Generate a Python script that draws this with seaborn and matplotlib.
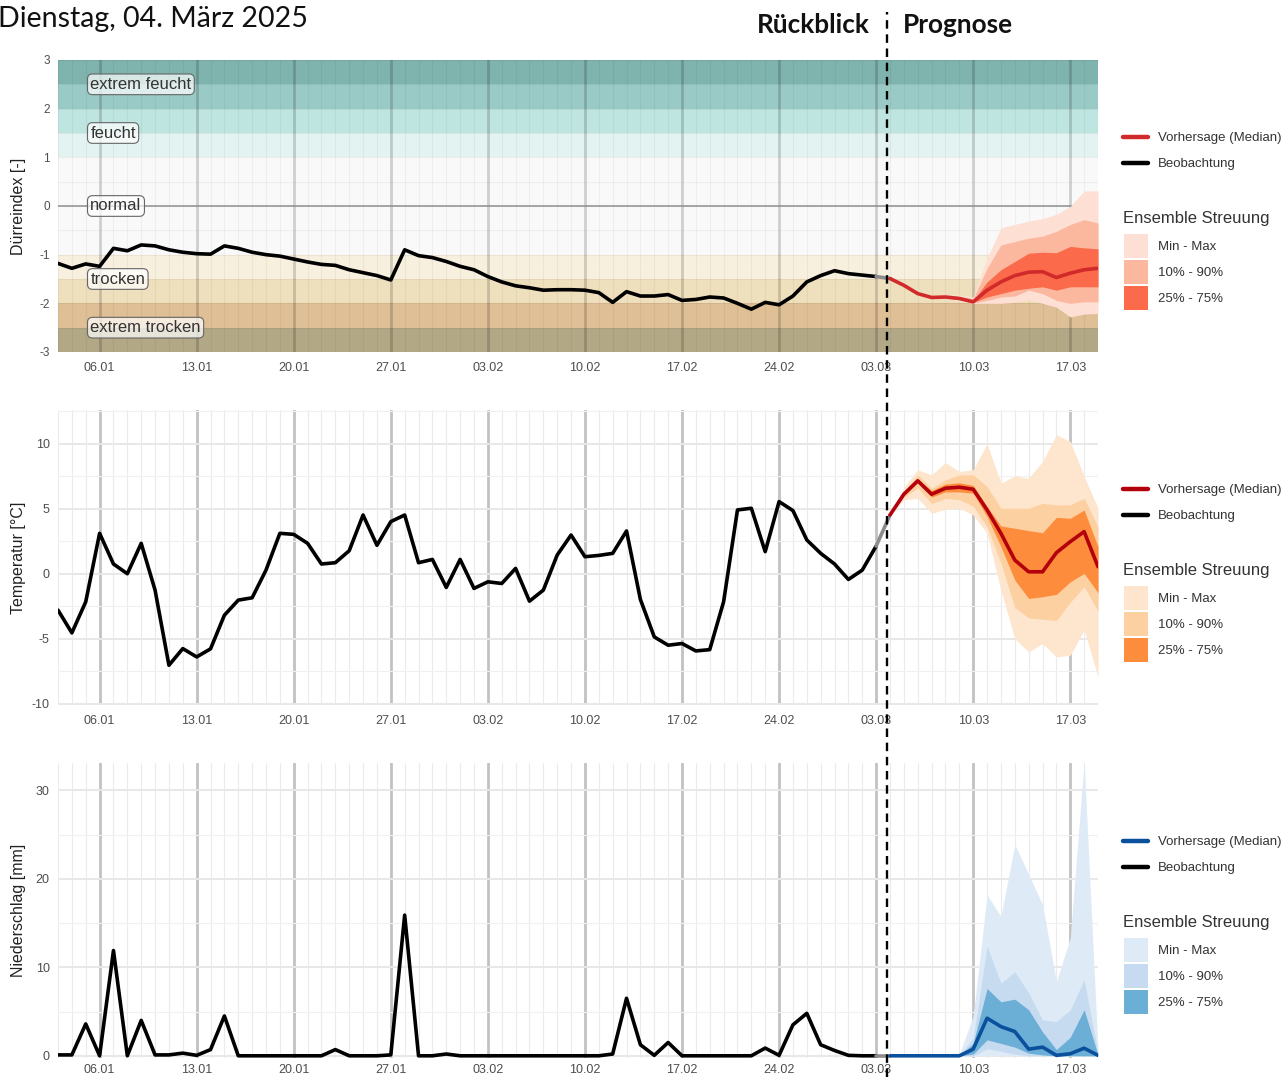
import numpy as np
import pandas as pd
import matplotlib
matplotlib.use("Agg")
import matplotlib.pyplot as plt
import matplotlib.dates as mdates
import matplotlib.transforms as mtrans
from matplotlib.lines import Line2D
from matplotlib.patches import Rectangle
from matplotlib.ticker import MultipleLocator
import seaborn as sns

# ---------------- data ----------------
obs_dates = pd.date_range("2025-01-03", "2025-03-03", freq="D")
fc_dates = pd.date_range("2025-03-04", "2025-03-19", freq="D")
cut_date = pd.Timestamp("2025-03-03 19:00")

# Drought index (observation)
sdi_obs = [-1.18, -1.28, -1.19, -1.24, -0.87, -0.92, -0.80, -0.82, -0.90, -0.95,
           -0.98, -0.99, -0.82, -0.87, -0.95, -1.00, -1.03, -1.09, -1.15, -1.20,
           -1.22, -1.31, -1.37, -1.43, -1.52, -0.90, -1.02, -1.06, -1.14,
           -1.24, -1.31, -1.45, -1.56, -1.64, -1.68, -1.73, -1.72, -1.72, -1.73,
           -1.78, -1.98, -1.76, -1.85, -1.85, -1.82, -1.94, -1.92, -1.87, -1.89,
           -2.00, -2.12, -1.98, -2.03, -1.85, -1.56, -1.43, -1.33,
           -1.39, -1.42, -1.45]
sdi_med = [-1.49, -1.63, -1.80, -1.88, -1.87, -1.90, -1.97, -1.73, -1.56, -1.43,
           -1.36, -1.35, -1.47, -1.38, -1.31, -1.28]
sdi_min = [-1.49, -1.64, -1.82, -1.90, -1.90, -1.95, -2.00, -2.00, -2.00, -1.98,
           -1.93, -2.00, -2.08, -2.28, -2.22, -2.21]
sdi_max = [-1.49, -1.62, -1.78, -1.85, -1.82, -1.83, -1.87, -1.07, -0.45, -0.38,
           -0.31, -0.26, -0.17, -0.01, 0.31, 0.31]
sdi_p10 = [-1.49, -1.64, -1.81, -1.89, -1.89, -1.93, -1.99, -1.94, -1.87, -1.85,
           -1.73, -1.80, -1.94, -2.00, -1.97, -1.97]
sdi_p90 = [-1.49, -1.62, -1.79, -1.86, -1.84, -1.86, -1.90, -1.28, -0.80, -0.73,
           -0.66, -0.62, -0.52, -0.38, -0.28, -0.35]
sdi_p25 = [-1.49, -1.63, -1.80, -1.88, -1.88, -1.92, -1.98, -1.87, -1.80, -1.73,
           -1.69, -1.66, -1.73, -1.66, -1.66, -1.66]
sdi_p75 = [-1.49, -1.63, -1.80, -1.87, -1.86, -1.88, -1.95, -1.56, -1.31, -1.14,
           -0.97, -0.95, -0.96, -0.83, -0.86, -0.88]

# Drought classes
class_bounds = [-3, -2.5, -2, -1.5, -1, 1, 1.5, 2, 2.5, 3]
class_colors = ["#b2a886", "#dfbf95", "#efe0bd", "#f8f0de", "#f9f9f9",
                "#e2f3f1", "#bfe5e0", "#9acac5", "#7fb3ad"]
class_labels = ["extrem feucht", "feucht", "normal", "trocken", "extrem trocken"]
class_label_y = [2.5, 1.5, 0, -1.5, -2.5]

# Temperature
tmp_obs = [-2.80, -4.55, -2.16, 3.11, 0.75, 0.00, 2.34, -1.26, -7.04, -5.76,
           -6.40, -5.78, -3.19, -2.03, -1.85, 0.28, 3.11, 3.03, 2.34, 0.75,
           0.85, 1.77, 4.52, 2.19, 4.01, 4.52, 0.85, 1.10, -1.05,
           1.10, -1.13, -0.62, -0.75, 0.41, -2.11, -1.26, 1.44, 2.98, 1.31,
           1.41, 1.57, 3.29, -1.98, -4.86, -5.50, -5.37, -5.94, -5.84, -2.16,
           4.91, 5.04, 1.70, 5.55, 4.86, 2.60, 1.57, 0.75,
           -0.44, 0.28, 2.13]
tmp_med = [4.52, 6.12, 7.15, 6.12, 6.58, 6.66, 6.50, 4.91, 3.11, 1.05,
           0.15, 0.15, 1.62, 2.47, 3.24, 0.54]
tmp_min = [4.52, 5.68, 5.81, 4.65, 4.96, 5.04, 4.52, 3.11, -1.30, -4.99,
           -6.02, -5.37, -6.40, -6.27, -4.34, -7.94]
tmp_max = [4.52, 6.66, 8.00, 7.61, 8.56, 7.87, 8.00, 10.00, 6.97, 7.53,
           7.35, 8.64, 10.69, 10.18, 7.50, 5.04]
tmp_p10 = [4.52, 5.90, 6.60, 5.40, 5.80, 5.70, 5.20, 3.60, 0.80, -2.60,
           -3.40, -3.50, -3.60, -2.20, -1.00, -2.90]
tmp_p90 = [4.52, 6.32, 7.61, 6.58, 7.22, 7.61, 7.61, 6.71, 5.04, 5.04,
           5.04, 5.42, 5.30, 5.30, 5.81, 3.62]
tmp_p25 = [4.52, 6.00, 7.00, 5.90, 6.30, 6.30, 6.20, 4.40, 2.08, -0.49,
           -1.90, -1.77, -1.59, -0.62, 0.03, -1.47]
tmp_p75 = [4.52, 6.20, 7.30, 6.40, 6.90, 7.00, 6.80, 5.17, 3.68, 3.50,
           3.32, 3.16, 4.34, 4.27, 4.91, 2.08]

# Precipitation
pr_obs = [0.1, 0.1, 3.6, 0.0, 11.9, 0.0, 4.0, 0.1, 0.1, 0.3,
          0.05, 0.7, 4.5, 0.0, 0.0, 0.0, 0.0, 0.0, 0.0, 0.0,
          0.7, 0.0, 0.0, 0.0, 0.1, 15.9, 0.0, 0.0, 0.2,
          0.0, 0.0, 0.0, 0.0, 0.0, 0.0, 0.0, 0.0, 0.0, 0.0,
          0.0, 0.2, 6.5, 1.25, 0.05, 1.5, 0.0, 0.0, 0.0, 0.0,
          0.0, 0.0, 0.87, 0.05, 3.5, 4.8, 1.25, 0.6,
          0.05, 0.0, 0.0]
pr_med = [0, 0, 0, 0, 0, 0, 0.75, 4.25, 3.3, 2.74, 0.75, 0.98, 0.05, 0.23, 0.86, 0.05]
pr_min = [0, 0, 0, 0, 0, 0, 0, 0, 0, 0, 0, 0, 0, 0, 0, 0]
pr_max = [0, 0, 0, 0, 0, 0.2, 4.5, 18.2, 15.75, 23.9, 20.5, 17.1, 8.4, 13.3, 33.3, 0.7]
pr_p10 = [0, 0, 0, 0, 0, 0, 0, 0.8, 0.5, 0.2, 0, 0, 0, 0, 0, 0]
pr_p90 = [0, 0, 0, 0, 0, 0.1, 2.0, 12.4, 8.2, 9.5, 7.1, 4.06, 3.87, 5.2, 8.6, 0.3]
pr_p25 = [0, 0, 0, 0, 0, 0, 0.2, 1.8, 1.4, 0.98, 0.3, 0.1, 0, 0, 0, 0]
pr_p75 = [0, 0, 0, 0, 0, 0, 1.4, 7.6, 6.1, 6.4, 5.2, 2.7, 0.7, 2.1, 5.2, 0.1]

title_text = "Dienstag, 04. März 2025"
ens_title = "Ensemble Streuung"
ens_labels = ["Min - Max", "10% - 90%", "25% - 75%"]
line_labels = ["Vorhersage (Median)", "Beobachtung"]

# ---------------- style ----------------
sns.set_theme(style="white")
plt.rcParams["font.family"] = ["Liberation Sans", "DejaVu Sans"]
plt.rcParams["axes.unicode_minus"] = False

W, H = 1286, 1077
fig = plt.figure(figsize=(W / 100, H / 100), dpi=100)
fig.patch.set_facecolor("white")
# pixel coordinates measured from the top-left corner
PX = mtrans.Affine2D().scale(1 / W, -1 / H).translate(0, 1) + fig.transFigure


def make_ax(top, bottom):
    return fig.add_axes([58 / W, 1 - bottom / H, 1040 / W, (bottom - top) / H])


ax1 = make_ax(60, 352)
ax2 = make_ax(410, 705)
ax3 = make_ax(763, 1058)


def style_axis(ax, ymaj, ymin, ylim, overlay=False, ytick_size=9, xpad=7):
    ax.set_facecolor("white")
    for s in ax.spines.values():
        s.set_visible(False)
    ax.set_xlim(obs_dates[0], fc_dates[-1])
    ax.set_ylim(*ylim)
    ax.xaxis.set_major_locator(mdates.WeekdayLocator(byweekday=mdates.MO))
    ax.xaxis.set_major_formatter(mdates.DateFormatter("%d.%m"))
    ax.xaxis.set_minor_locator(mdates.DayLocator())
    ax.yaxis.set_major_locator(MultipleLocator(ymaj))
    ax.yaxis.set_minor_locator(MultipleLocator(ymin))
    ax.set_axisbelow(True)
    if overlay:
        ax.grid(which="major", axis="x", color="black", alpha=0.17, lw=2.0)
        ax.grid(which="minor", axis="x", color="black", alpha=0.045, lw=0.8)
        ax.grid(which="major", axis="y", color="black", alpha=0.05, lw=0.8)
        ax.grid(which="minor", axis="y", color="black", alpha=0.045, lw=0.8)
    else:
        ax.grid(which="major", axis="x", color="#c2c2c2", lw=2.0)
        ax.grid(which="minor", axis="x", color="#ebebeb", lw=0.8)
        ax.grid(which="major", axis="y", color="#e8e8e8", lw=1.4)
        ax.grid(which="minor", axis="y", color="#f0f0f0", lw=0.8)
    ax.tick_params(axis="both", which="both", length=0)
    ax.tick_params(axis="x", which="major", labelsize=9, labelcolor="#4d4d4d", pad=xpad)
    ax.tick_params(axis="y", which="major", labelsize=ytick_size, labelcolor="#4d4d4d", pad=6)


def ribbons(ax, lo_hi, colors, z=1.6):
    for (lo, hi), c in zip(lo_hi, colors):
        ax.fill_between(fc_dates, lo, hi, color=c, lw=0, zorder=z)


def lines(ax, obs, med, med_color):
    sns.lineplot(x=obs_dates, y=obs, ax=ax, color="black", lw=2.6, zorder=4)
    sns.lineplot(x=[obs_dates[-1], fc_dates[0]], y=[obs[-1], med[0]], ax=ax,
                 color="#8c8c8c", lw=2.6, zorder=4)
    sns.lineplot(x=fc_dates, y=med, ax=ax, color=med_color, lw=2.6, zorder=4)


# ---- panel 1: drought index ----
style_axis(ax1, 1, 0.5, (-3, 3), overlay=True, ytick_size=8.5)
for lo, hi, c in zip(class_bounds[:-1], class_bounds[1:], class_colors):
    ax1.axhspan(lo, hi, color=c, lw=0, zorder=0.1)
ax1.axhline(0, color="#8f8f8f", lw=1.1, zorder=1)
red_cols = ["#fedfd3", "#fcb89f", "#fb6a4a"]
ribbons(ax1, [(sdi_min, sdi_max), (sdi_p10, sdi_p90), (sdi_p25, sdi_p75)], red_cols)
lines(ax1, sdi_obs, sdi_med, "#d12a2a")
for lab, yv in zip(class_labels, class_label_y):
    ax1.text(pd.Timestamp("2025-01-05 08:00"), yv, lab, ha="left", va="center",
             fontsize=12, color="#333333", zorder=5,
             bbox=dict(boxstyle="round,pad=0.17,rounding_size=0.3",
                       fc=(1, 1, 1, 0.7), ec="#666666", lw=0.8))
ax1.set_ylabel("Dürreindex [-]", fontsize=11.5, color="#222222")

# ---- panel 2: temperature ----
style_axis(ax2, 5, 2.5, (-10.1, 12.6))
org_cols = ["#fee6ce", "#fdd0a2", "#fd8d3c"]
ribbons(ax2, [(tmp_min, tmp_max), (tmp_p10, tmp_p90), (tmp_p25, tmp_p75)], org_cols)
lines(ax2, tmp_obs, tmp_med, "#b3000c")
ax2.set_ylabel("Temperatur [°C]", fontsize=11.5, color="#222222")

# ---- panel 3: precipitation ----
style_axis(ax3, 10, 5, (-0.25, 33.1), xpad=4)
blu_cols = ["#deebf7", "#c6dbef", "#6baed6"]
ribbons(ax3, [(pr_min, pr_max), (pr_p10, pr_p90), (pr_p25, pr_p75)], blu_cols)
lines(ax3, pr_obs, pr_med, "#0b509c")
ax3.set_ylabel("Niederschlag [mm]", fontsize=11.5, color="#222222")

for ax in (ax1, ax2, ax3):
    ax.set_xlabel("")
    ax.yaxis.set_label_coords(-0.031, 0.5)
    lg = ax.get_legend()
    if lg:
        lg.remove()


# ---- legends (drawn in pixel coordinates) ----
def add_legend(y_line, med_color, cols):
    x0, x1, xt = 1123, 1148, 1158
    for i, (c, lab) in enumerate(zip([med_color, "black"], line_labels)):
        y = y_line + 26 * i
        fig.add_artist(Line2D([x0, x1], [y, y], transform=PX, color=c, lw=3.2,
                              solid_capstyle="round"))
        fig.text(xt, y, lab, transform=PX, fontsize=9.5, color="#333333",
                 ha="left", va="center_baseline")
    yt = y_line + 80
    fig.text(x0, yt, ens_title, transform=PX, fontsize=12, color="#333333",
             ha="left", va="center_baseline")
    for i, (c, lab) in enumerate(zip(cols, ens_labels)):
        y = yt + 29 + 26 * i
        fig.add_artist(Rectangle((x0 + 1, y - 12), 24, 24, transform=PX,
                                 facecolor=c, edgecolor="none"))
        fig.text(xt, y, lab, transform=PX, fontsize=9.5, color="#333333",
                 ha="left", va="center_baseline")


add_legend(137, "#d12a2a", red_cols)
add_legend(489, "#b3000c", org_cols)
add_legend(841, "#0b509c", blu_cols)

# ---- titles ----
fig.text(-2 / W, 1 - 27 / H, title_text, fontsize=20.5, family=["Lato", "DejaVu Sans"],
         ha="left", va="baseline", color="#111111")
fig.text(870 / W, 1 - 33 / H, "Rückblick", fontsize=18.8, fontweight="bold",
         family=["Lato", "DejaVu Sans"], ha="right", va="baseline", color="#111111")
fig.text(903 / W, 1 - 33 / H, "Prognose", fontsize=18.8, fontweight="bold",
         family=["Lato", "DejaVu Sans"], ha="left", va="baseline", color="#111111")

# ---- dashed separator spanning all panels ----
blend = mtrans.blended_transform_factory(ax1.transData, fig.transFigure)
xc = mdates.date2num(cut_date)
sep = Line2D([xc, xc], [0, 1 - 12 / H], transform=blend, color="black",
             lw=1.7, ls=(0, (3.6, 2.4)), zorder=10)
fig.add_artist(sep)

fig.savefig("out.png", dpi=100, facecolor="white")
